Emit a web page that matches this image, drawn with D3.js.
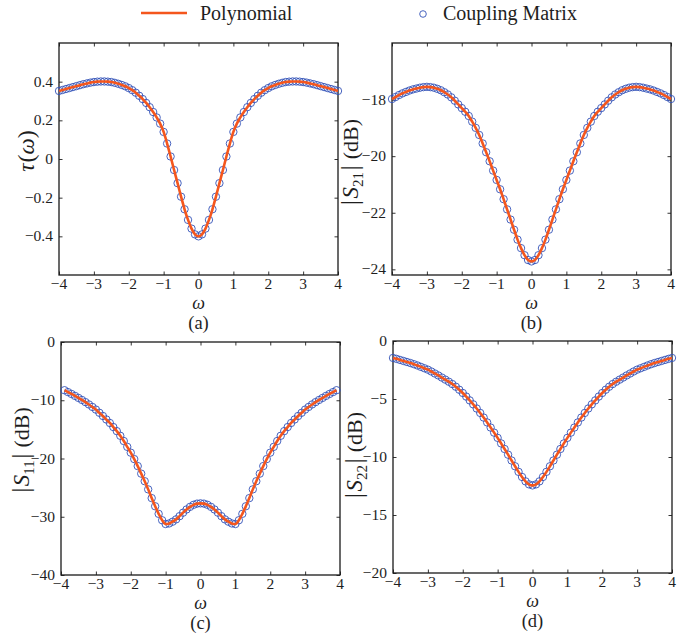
<!DOCTYPE html>
<html><head><meta charset="utf-8">
<script src="https://cdn.jsdelivr.net/npm/d3@7"></script>
<style>body{margin:0;background:#fff} svg{display:block}</style>
</head><body>
<svg id="chart" width="699" height="635"></svg>
<script>
// ---------- data ----------
const omega = [-4.0,-3.9,-3.8,-3.7,-3.6,-3.5,-3.4,-3.3,-3.2,-3.1,-3.0,-2.9,-2.8,-2.7,-2.6,-2.5,-2.4,-2.3,-2.2,-2.1,-2.0,-1.9,-1.8,-1.7,-1.6,-1.5,-1.4,-1.3,-1.2,-1.1,-1.0,-0.9,-0.8,-0.7,-0.6,-0.5,-0.4,-0.3,-0.2,-0.1,0.0,0.1,0.2,0.3,0.4,0.5,0.6,0.7,0.8,0.9,1.0,1.1,1.2,1.3,1.4,1.5,1.6,1.7,1.8,1.9,2.0,2.1,2.2,2.3,2.4,2.5,2.6,2.7,2.8,2.9,3.0,3.1,3.2,3.3,3.4,3.5,3.6,3.7,3.8,3.9,4.0];
const omegaS11 = [-3.9,-3.8,-3.7,-3.6,-3.5,-3.4,-3.3,-3.2,-3.1,-3.0,-2.9,-2.8,-2.7,-2.6,-2.5,-2.4,-2.3,-2.2,-2.1,-2.0,-1.9,-1.8,-1.7,-1.6,-1.5,-1.4,-1.3,-1.2,-1.1,-1.0,-0.9,-0.8,-0.7,-0.6,-0.5,-0.4,-0.3,-0.2,-0.1,0.0,0.1,0.2,0.3,0.4,0.5,0.6,0.7,0.8,0.9,1.0,1.1,1.2,1.3,1.4,1.5,1.6,1.7,1.8,1.9,2.0,2.1,2.2,2.3,2.4,2.5,2.6,2.7,2.8,2.9,3.0,3.1,3.2,3.3,3.4,3.5,3.6,3.7,3.8,3.9];

const tau = [0.352,0.357,0.362,0.367,0.372,0.377,0.382,0.387,0.391,0.395,0.398,0.400,0.401,0.401,0.400,0.398,0.394,0.389,0.383,0.376,0.367,0.356,0.343,0.327,0.310,0.290,0.268,0.243,0.215,0.183,0.140,0.080,0.013,-0.057,-0.125,-0.195,-0.260,-0.315,-0.360,-0.390,
-0.400,
-0.390,-0.360,-0.315,-0.260,-0.195,-0.125,-0.057,0.013,0.080,0.140,0.183,0.215,0.243,0.268,0.290,0.310,0.327,0.343,0.356,0.367,0.376,0.383,0.389,0.394,0.398,0.400,0.401,0.401,0.400,0.398,0.395,0.391,0.387,0.382,0.377,0.372,0.367,0.362,0.357,0.352];

const s21 = [-17.98,-17.91,-17.84,-17.78,-17.73,-17.68,-17.64,-17.61,-17.58,-17.56,-17.55,-17.56,-17.58,-17.62,-17.67,-17.74,-17.82,-17.92,-18.04,-18.17,-18.30,-18.43,-18.58,-18.78,-19.00,-19.25,-19.55,-19.86,-20.18,-20.51,-20.84,-21.17,-21.52,-21.88,-22.24,-22.60,-22.95,-23.25,-23.50,-23.67,
-23.72,
-23.67,-23.50,-23.25,-22.95,-22.60,-22.24,-21.88,-21.52,-21.17,-20.84,-20.51,-20.18,-19.86,-19.55,-19.25,-19.00,-18.78,-18.58,-18.43,-18.30,-18.17,-18.04,-17.92,-17.82,-17.74,-17.67,-17.62,-17.58,-17.56,-17.55,-17.56,-17.58,-17.61,-17.64,-17.68,-17.73,-17.78,-17.84,-17.91,-17.98];

const s11 = [-8.28,-8.60,-8.92,-9.25,-9.60,-9.95,-10.32,-10.72,-11.15,-11.60,-12.15,-12.70,-13.30,-13.90,-14.60,-15.30,-16.10,-17.00,-18.00,-19.00,-20.10,-21.30,-22.60,-23.90,-25.30,-26.80,-28.20,-29.50,-30.60,-31.25,-31.15,-30.85,-30.45,-29.90,-29.30,-28.75,-28.30,-27.95,-27.75,
-27.70,
-27.75,-27.95,-28.30,-28.75,-29.30,-29.90,-30.45,-30.85,-31.15,-31.25,-30.60,-29.50,-28.20,-26.80,-25.30,-23.90,-22.60,-21.30,-20.10,-19.00,-18.00,-17.00,-16.10,-15.30,-14.60,-13.90,-13.30,-12.70,-12.15,-11.60,-11.15,-10.72,-10.32,-9.95,-9.60,-9.25,-8.92,-8.60,-8.28];

const s22 = [-1.46,-1.54,-1.63,-1.72,-1.81,-1.90,-2.00,-2.11,-2.23,-2.35,-2.47,-2.63,-2.80,-2.97,-3.15,-3.33,-3.51,-3.71,-3.94,-4.20,-4.48,-4.79,-5.12,-5.46,-5.82,-6.20,-6.60,-7.02,-7.46,-7.90,-8.35,-8.83,-9.31,-9.80,-10.30,-10.80,-11.28,-11.72,-12.10,-12.36,
-12.45,
-12.36,-12.10,-11.72,-11.28,-10.80,-10.30,-9.80,-9.31,-8.83,-8.35,-7.90,-7.46,-7.02,-6.60,-6.20,-5.82,-5.46,-5.12,-4.79,-4.48,-4.20,-3.94,-3.71,-3.51,-3.33,-3.15,-2.97,-2.80,-2.63,-2.47,-2.35,-2.23,-2.11,-2.00,-1.90,-1.81,-1.72,-1.63,-1.54,-1.46];

const xTicks = [-4,-3,-2,-1,0,1,2,3,4];
const xTickLabels = ["\u22124","\u22123","\u22122","\u22121","0","1","2","3","4"];
const tauTicks = [-0.4,-0.2,0,0.2,0.4];
const tauTickLabels = ["\u22120.4","\u22120.2","0","0.2","0.4"];
const s21Ticks = [-24,-22,-20,-18];
const s21TickLabels = ["\u221224","\u221222","\u221220","\u221218"];
const s11Ticks = [-40,-30,-20,-10,0];
const s11TickLabels = ["\u221240","\u221230","\u221220","\u221210","0"];
const s22Ticks = [-20,-15,-10,-5,0];
const s22TickLabels = ["\u221220","\u221215","\u221210","\u22125","0"];
const legendLabels = ["Polynomial","Coupling Matrix"];
const panelTags = ["(a)","(b)","(c)","(d)"];

// ---------- style ----------
const LINE = "#f4561d", MARK = "#3352b8", SERIF = "Liberation Serif", INK = "#1e1e1e";

const panels = [
  {x:omega, y:tau, yDom:[-0.6,0.6], yt:tauTicks, ytl:tauTickLabels, L:59, R:338, T:43, B:275, lab:"tau", sub:"", tag:panelTags[0], labX:34, labY:151},
  {x:omega, y:s21, yDom:[-24.2,-16], yt:s21Ticks, ytl:s21TickLabels, L:392, R:671, T:43, B:275, lab:"S", sub:"21", tag:panelTags[1], labX:358, labY:162},
  {x:omegaS11, y:s11, yDom:[-40,0], yt:s11Ticks, ytl:s11TickLabels, L:61, R:340, T:342, B:575, lab:"S", sub:"11", tag:panelTags[2], labX:29, labY:450},
  {x:omega, y:s22, yDom:[-20,0], yt:s22Ticks, ytl:s22TickLabels, L:393, R:672, T:341, B:573, lab:"S", sub:"22", tag:panelTags[3], labX:362, labY:455}
];

const svg = d3.select("#chart");
const txt = (sel, size) => sel.attr("font-family", SERIF).attr("font-size", size).attr("fill", INK);

panels.forEach(p => {
  const x = d3.scaleLinear().domain([-4,4]).range([p.L,p.R]);
  const y = d3.scaleLinear().domain(p.yDom).range([p.B,p.T]);
  const g = svg.append("g");

  const tk = 3.5;
  const ax = (axisGen, tr) => {
    const a = g.append("g").attr("transform", tr).call(axisGen);
    a.select(".domain").remove();
    a.selectAll(".tick text").remove();
    a.selectAll(".tick line").attr("stroke",INK).attr("stroke-width",0.9);
  };
  ax(d3.axisBottom(x).tickValues(xTicks).tickSize(-tk), `translate(0,${p.B})`);
  ax(d3.axisTop(x).tickValues(xTicks).tickSize(-tk), `translate(0,${p.T})`);
  ax(d3.axisLeft(y).tickValues(p.yt).tickSize(-tk), `translate(${p.L},0)`);
  ax(d3.axisRight(y).tickValues(p.yt).tickSize(-tk), `translate(${p.R},0)`);

  txt(g.append("g").selectAll("text").data(xTicks).join("text"), 15.5)
    .attr("x", d=>x(d)).attr("y", p.B+14).attr("text-anchor","middle")
    .text((d,i)=>xTickLabels[i]);
  txt(g.append("g").selectAll("text").data(p.yt).join("text"), 15.5)
    .attr("x", p.L-6).attr("y", d=>y(d)+5).attr("text-anchor","end")
    .text((d,i)=>p.ytl[i]);

  g.append("rect").attr("x",p.L).attr("y",p.T).attr("width",p.R-p.L).attr("height",p.B-p.T)
    .attr("fill","none").attr("stroke","#1a1a1a").attr("stroke-width",1.3);

  const pts = p.x.map((v,i)=>[v,p.y[i]]);
  g.append("g").selectAll("circle").data(pts).join("circle")
    .attr("cx",d=>x(d[0])).attr("cy",d=>y(d[1])).attr("r",3.7)
    .attr("fill","none").attr("stroke",MARK).attr("stroke-width",0.9);
  g.append("path").datum(pts)
    .attr("d", d3.line().x(d=>x(d[0])).y(d=>y(d[1])).curve(d3.curveMonotoneX))
    .attr("fill","none").attr("stroke",LINE).attr("stroke-width",2.6);

  txt(g.append("text"), 18).attr("x",(p.L+p.R)/2).attr("y",p.B+34).attr("text-anchor","middle")
    .attr("font-style","italic").text("\u03c9");
  txt(g.append("text"), 18.5).attr("x",(p.L+p.R)/2).attr("y",p.B+54).attr("text-anchor","middle").text(p.tag);

  const t = txt(g.append("text"), 22).attr("transform",`translate(${p.labX},${p.labY}) rotate(-90)`)
    .attr("text-anchor","middle");
  if (p.lab === "tau") {
    t.append("tspan").attr("font-style","italic").attr("font-size",23).text("\u03c4");
    t.append("tspan").attr("font-size",24).attr("dx",1).text("(");
    t.append("tspan").attr("font-style","italic").attr("font-size",23).text("\u03c9");
    t.append("tspan").attr("font-size",24).text(")");
  } else {
    t.append("tspan").attr("font-size",26).text("|");
    t.append("tspan").attr("font-style","italic").attr("font-size",23).attr("dx",1.5).text("S");
    t.append("tspan").attr("font-size",15).attr("dy",5).text(p.sub);
    t.append("tspan").attr("font-size",26).attr("dy",-5).attr("dx",1.5).text("|");
    t.append("tspan").attr("dx",6).text("(dB)");
  }
});

const lg = svg.append("g");
lg.append("line").attr("x1",141).attr("x2",187).attr("y1",13).attr("y2",13).attr("stroke",LINE).attr("stroke-width",2.6);
txt(lg.append("text"), 20).attr("x",200).attr("y",20).text(legendLabels[0]);
lg.append("circle").attr("cx",423).attr("cy",14).attr("r",3.3).attr("fill","none").attr("stroke",MARK).attr("stroke-width",0.9);
txt(lg.append("text"), 20).attr("x",443).attr("y",20).text(legendLabels[1]);
</script>
</body></html>
